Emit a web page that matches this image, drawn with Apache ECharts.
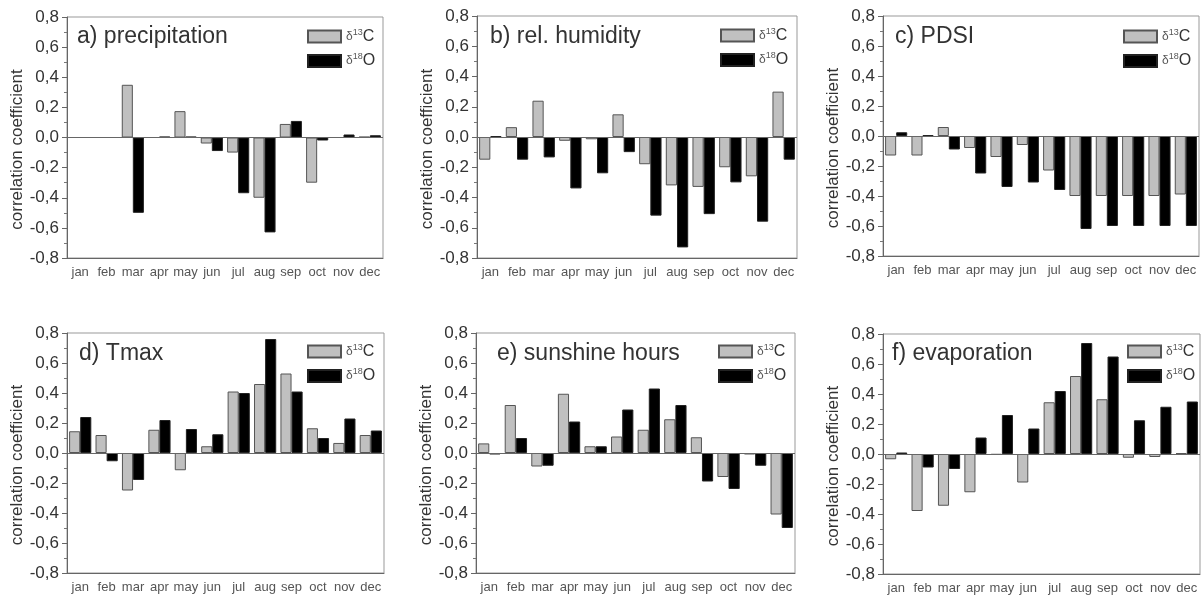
<!DOCTYPE html>
<html>
<head>
<meta charset="utf-8">
<script src="https://cdn.jsdelivr.net/npm/echarts@6/dist/echarts.min.js"></script>
<style>
  html, body { margin: 0; padding: 0; background: #fff; }
  #chart { width: 1202px; height: 596px; }
</style>
</head>
<body>
<div id="chart"></div>
<script>
// months on the x axis
const months = ['jan', 'feb', 'mar', 'apr', 'may', 'jun', 'jul', 'aug', 'sep', 'oct', 'nov', 'dec']
const yTicks = [-0.8, 0.8, 0.2] // min, max, interval

// a) precipitation
const precipC = [0, 0, 0.35, 0, 0.175, -0.04, -0.10, -0.40, 0.09, -0.30, 0, 0.005]
const precipO = [0, 0, -0.50, 0.005, 0.005, -0.09, -0.37, -0.63, 0.11, -0.02, 0.02, 0.015]
// b) rel. humidity
const humidC = [-0.15, 0.065, 0.24, -0.025, -0.015, 0.15, -0.18, -0.32, -0.33, -0.20, -0.26, 0.30]
const humidO = [0.005, -0.15, -0.135, -0.34, -0.24, -0.10, -0.52, -0.73, -0.51, -0.30, -0.56, -0.15]
// c) PDSI
const pdsiC = [-0.13, -0.13, 0.06, -0.08, -0.14, -0.06, -0.23, -0.40, -0.40, -0.40, -0.40, -0.39]
const pdsiO = [0.025, 0.005, -0.09, -0.25, -0.34, -0.31, -0.36, -0.62, -0.60, -0.60, -0.60, -0.60]
// d) Tmax
const tmaxC = [0.145, 0.12, -0.25, 0.155, -0.115, 0.045, 0.41, 0.46, 0.53, 0.165, 0.067, 0.12]
const tmaxO = [0.24, -0.055, -0.18, 0.22, 0.16, 0.125, 0.40, 0.76, 0.41, 0.10, 0.23, 0.15]
// e) sunshine hours
const sunC = [0.064, 0.32, -0.09, 0.395, 0.045, 0.11, 0.155, 0.225, 0.105, -0.16, -0.01, -0.41]
const sunO = [-0.01, 0.10, -0.085, 0.21, 0.045, 0.29, 0.43, 0.32, -0.19, -0.24, -0.085, -0.50]
// f) evaporation
const evapC = [-0.035, -0.38, -0.345, -0.255, -0.005, -0.19, 0.345, 0.52, 0.365, -0.025, -0.02, 0.005]
const evapO = [0.01, -0.09, -0.10, 0.11, 0.26, 0.17, 0.42, 0.74, 0.65, 0.225, 0.315, 0.35]

const panelTitles = ['a) precipitation', 'b) rel. humidity', 'c) PDSI', 'd) Tmax', 'e) sunshine hours', 'f) evaporation']
const panelC = [precipC, humidC, pdsiC, tmaxC, sunC, evapC]
const panelO = [precipO, humidO, pdsiO, tmaxO, sunO, evapO]

// layout of the six plot boxes
const grids = [
  { left: 67, top: 17, width: 316, height: 241 },
  { left: 477, top: 16, width: 320, height: 242 },
  { left: 883, top: 16, width: 316, height: 240 },
  { left: 67, top: 333, width: 317, height: 240 },
  { left: 476, top: 333, width: 319, height: 240 },
  { left: 883, top: 334, width: 317, height: 240 }
]
const titlePos = [[77, 25], [490, 25], [895, 25], [79, 342], [497, 342], [892, 342]]
const legendPos = [[307, 28], [720, 27], [1123, 28], [307, 343], [718, 343], [1127, 343]]

const font = '"Liberation Sans", Arial, sans-serif'
const option = { animation: false, textStyle: { fontFamily: font }, title: [], legend: [], grid: [], xAxis: [], yAxis: [], series: [] }

grids.forEach((g, i) => {
  option.grid.push(Object.assign({ show: true, borderColor: '#999', borderWidth: 1 }, g))
  option.title.push({
    text: panelTitles[i], left: titlePos[i][0], top: titlePos[i][1], padding: 0,
    textStyle: { fontSize: 23, fontWeight: 'normal', color: '#333', fontFamily: font }
  })
  option.legend.push({
    orient: 'vertical', left: legendPos[i][0], top: legendPos[i][1], padding: 0,
    itemWidth: 33, itemHeight: 12, itemGap: 8, selectedMode: false,
    data: [{ name: 'd13C', icon: 'rect' }, { name: 'd18O', icon: 'rect' }],
    formatter: n => n === 'd13C' ? '{d|δ}{s|13}{t|C}' : '{d|δ}{s|18}{t|O}',
    textStyle: {
      color: '#333',
      rich: {
        d: { fontSize: 12, color: '#555', fontFamily: font },
        s: { fontSize: 9, color: '#555', padding: [0, 0, 8, 0], fontFamily: font },
        t: { fontSize: 16, color: '#333', fontFamily: font }
      }
    }
  })
  option.xAxis.push({
    type: 'category', gridIndex: i, data: months,
    axisLine: { onZero: false, lineStyle: { color: '#666' } },
    axisTick: { show: false },
    axisLabel: { interval: 0, fontSize: 13, color: '#555', margin: 8 }
  })
  option.yAxis.push({
    type: 'value', gridIndex: i, min: yTicks[0], max: yTicks[1], interval: yTicks[2],
    name: 'correlation coefficient', nameLocation: 'middle', nameGap: 41,
    nameTextStyle: { fontSize: 17, color: '#333', padding: [0, 24, 0, 0] },
    axisLine: { show: true, lineStyle: { color: '#666' } },
    axisTick: { show: true, length: 5, lineStyle: { color: '#666' } },
    minorTick: { show: true, splitNumber: 2, length: 3, lineStyle: { color: '#777' } },
    splitLine: { show: false },
    axisLabel: { fontSize: 17, color: '#333', margin: 8, formatter: v => v.toFixed(1).replace('.', ',') }
  })
  option.series.push({
    name: 'd13C', type: 'bar', xAxisIndex: i, yAxisIndex: i, data: panelC[i],
    barGap: '0%', barCategoryGap: '16%',
    itemStyle: { color: '#c0c0c0', borderColor: '#555', borderWidth: 1 },
    markLine: {
      silent: true, symbol: 'none', label: { show: false },
      lineStyle: { color: '#666', type: 'solid', width: 1 },
      data: [{ yAxis: 0 }]
    }
  })
  option.series.push({
    name: 'd18O', type: 'bar', xAxisIndex: i, yAxisIndex: i, data: panelO[i],
    barGap: '0%', barCategoryGap: '16%',
    itemStyle: { color: '#000', borderColor: '#222', borderWidth: 1 }
  })
})

const myChart = echarts.init(document.getElementById('chart'))
myChart.setOption(option)
window.addEventListener('resize', () => {
  myChart.resize()
})
</script>
</body>
</html>
